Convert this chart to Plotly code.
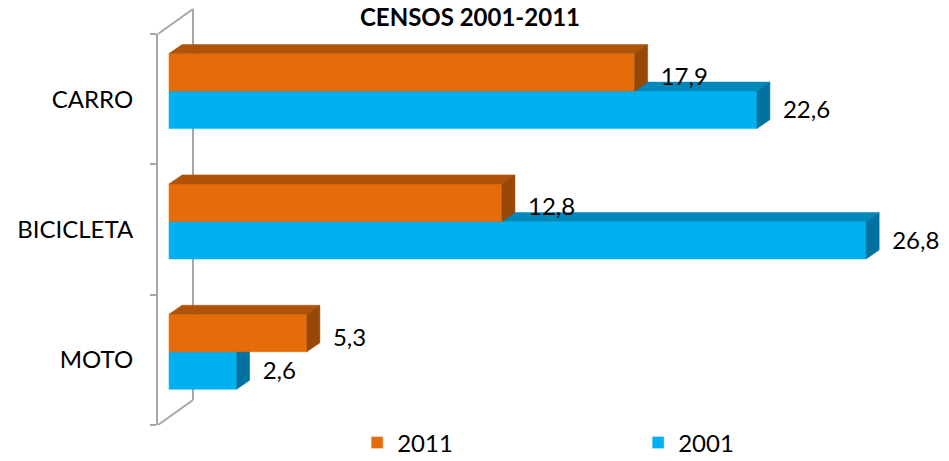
import plotly.graph_objects as go

# ---- data ----
categories = ["MOTO", "BICICLETA", "CARRO"]
series_names = ["2011", "2001"]
values_2011 = [5.3, 12.8, 17.9]
values_2001 = [2.6, 26.8, 22.6]
title_text = "CENSOS 2001-2011"

# ---- style ----
ORANGE = {"front": "#E46C0A", "top": "#B0530A", "side": "#974806"}
BLUE = {"front": "#00B0F0", "top": "#0088BA", "side": "#0073A0"}
FONT = "Lato"
BAR_H = 0.288      # bar thickness (category units)
SPLIT = 0.062      # boundary between the two bars relative to category centre
DX, DY = 0.5, 0.069  # 3-D depth offsets (data units)

positions = list(range(len(categories)))


def fmt(v):
    return f"{v:.1f}".replace(".", ",")


def faces(vals, y_lo_off, y_hi_off):
    fx, fy, tx, ty, sx, sy = [], [], [], [], [], []
    for p, v in zip(positions, vals):
        y0, y1 = p + y_lo_off, p + y_hi_off
        fx += [0, v, v, 0, 0, None]
        fy += [y0, y0, y1, y1, y0, None]
        tx += [0, v, v + DX, DX, 0, None]
        ty += [y1, y1, y1 + DY, y1 + DY, y1, None]
        sx += [v, v + DX, v + DX, v, v, None]
        sy += [y0, y0 + DY, y1 + DY, y1, y0, None]
    return (fx, fy), (tx, ty), (sx, sy)


fig = go.Figure()

# legend entries
fig.add_trace(go.Bar(x=[None], y=[None], orientation="h", name=series_names[0],
                     marker_color=ORANGE["front"]))
fig.add_trace(go.Bar(x=[None], y=[None], orientation="h", name=series_names[1],
                     marker_color=BLUE["front"]))

# 2001 (blue) drawn first, then 2011 (orange) on top
for vals, col, lo, hi in [
    (values_2001, BLUE, SPLIT - BAR_H, SPLIT),
    (values_2011, ORANGE, SPLIT, SPLIT + BAR_H),
]:
    (fx, fy), (tx, ty), (sx, sy) = faces(vals, lo, hi)
    for (xx, yy), key in [((fx, fy), "front"), ((tx, ty), "top"), ((sx, sy), "side")]:
        fig.add_trace(go.Scatter(x=xx, y=yy, mode="lines", fill="toself",
                                 fillcolor=col[key],
                                 line=dict(color=col[key], width=0.5),
                                 showlegend=False, hoverinfo="skip"))

# value labels
fig.add_trace(go.Scatter(
    x=[v + DX + 0.5 for v in values_2011],
    y=[p + SPLIT + BAR_H / 2 - 0.05 for p in positions],
    mode="text", text=[fmt(v) for v in values_2011], textposition="middle right",
    textfont=dict(family=FONT, size=24, color="#000000"),
    showlegend=False, hoverinfo="skip", cliponaxis=False))
fig.add_trace(go.Scatter(
    x=[v + DX + 0.5 for v in values_2001],
    y=[p + SPLIT - BAR_H / 2 - 0.02 for p in positions],
    mode="text", text=[fmt(v) for v in values_2001], textposition="middle right",
    textfont=dict(family=FONT, size=24, color="#000000"),
    showlegend=False, hoverinfo="skip", cliponaxis=False))

# 3-D wall (decoration) in paper coordinates
W_COL = "#A6A6A6"
bx, btop, bbot = 0.0448, 1.064, 0.064
wall = [
    (bx, btop, bx, bbot),
    (0, 1, bx, btop),
    (0, 0, bx, bbot),
]
shapes = [dict(type="line", xref="paper", yref="paper", x0=a, y0=b, x1=c, y1=d,
               line=dict(color=W_COL, width=2), layer="below") for a, b, c, d in wall]

fig.update_layout(
    width=949, height=461,
    margin=dict(l=158, r=10, t=34, b=36, autoexpand=False),
    paper_bgcolor="white", plot_bgcolor="white",
    barmode="overlay",
    shapes=shapes,
    title=dict(text=f"<b>{title_text}</b>", x=470 / 949, xanchor="center",
               y=1 - 18 / 461, yanchor="middle",
               font=dict(family=FONT, size=24, color="#000000")),
    xaxis=dict(range=[-11 / 26, 29.6], showgrid=False, zeroline=False,
               showticklabels=False, ticks="", showline=False, automargin=False),
    yaxis=dict(range=[-0.5, 2.5], tickmode="array", tickvals=positions,
               ticktext=categories, ticks="", showgrid=False, zeroline=False,
               showline=True, linecolor=W_COL, linewidth=2,
               ticklabelstandoff=18, automargin=False,
               tickfont=dict(family=FONT, size=24, color="#000000"),
               minor=dict(tickmode="array", tickvals=[-0.5, 0.5, 1.5, 2.5],
                          ticks="outside", ticklen=6, tickcolor=W_COL,
                          tickwidth=2, showgrid=False)),
    legend=dict(orientation="h", x=0.255, xanchor="left", y=-0.046,
                yanchor="middle", entrywidth=236, entrywidthmode="pixels",
                font=dict(family=FONT, size=24, color="#000000"),
                bgcolor="rgba(0,0,0,0)"),
    showlegend=True,
)

fig.write_html("out.html",
               config={"displayModeBar": False},
               post_script="document.body.style.margin='0';"
                           "document.body.style.overflow='hidden';")
